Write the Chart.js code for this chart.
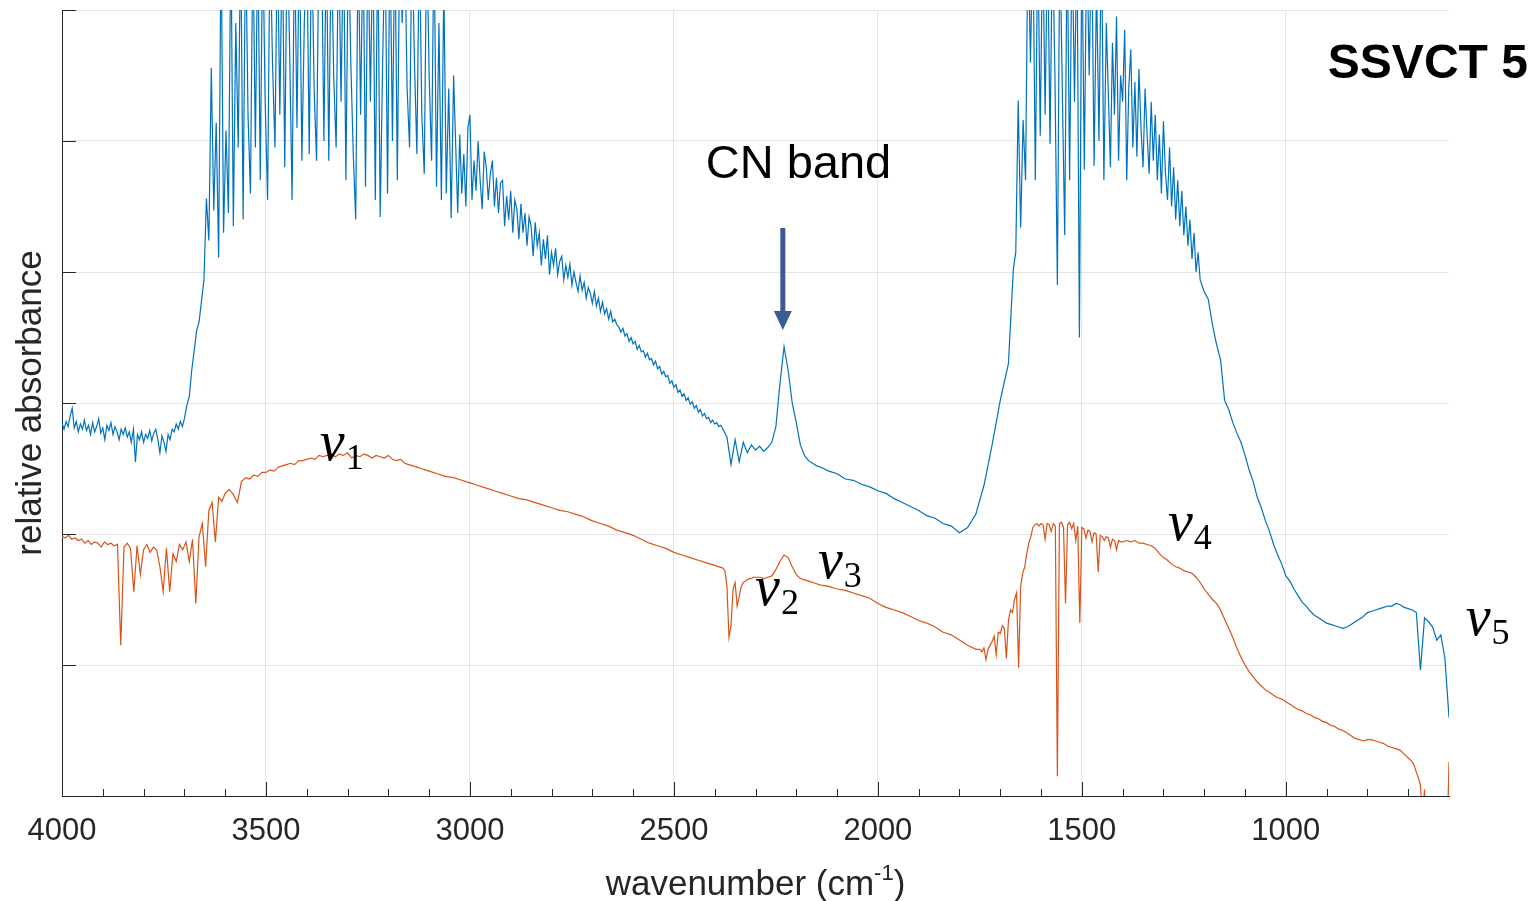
<!DOCTYPE html>
<html><head><meta charset="utf-8">
<script src="https://cdn.jsdelivr.net/npm/chart.js@4"></script>
<style>html,body{margin:0;padding:0;background:#fff;overflow:hidden}canvas{display:block}</style>
</head><body>
<canvas id="c" width="1528" height="901"></canvas>
<script>
// ---------------- DATA ----------------
// x grid: wavenumber (cm-1), each segment = [start, step, values]
const xMajorTicks = [1000, 1500, 2000, 2500, 3000, 3500, 4000];
const xTickLabels = ['1000', '1500', '2000', '2500', '3000', '3500', '4000'];
const xMinorTicks = [700, 800, 900, 1100, 1200, 1300, 1400, 1600, 1700, 1800, 1900, 2100, 2200, 2300, 2400, 2600, 2700, 2800, 2900, 3100, 3200, 3300, 3400, 3600, 3700, 3800, 3900];
const yTicks = [0, 1, 2, 3, 4, 5, 6];

// upper (blue) spectrum
const blueA = [2.85,2.80,2.86,2.82,2.90,2.96,2.81,2.86,2.78,2.84,
  2.80,2.87,2.79,2.83,2.76,2.85,2.78,2.82,2.88,2.77,
  2.81,2.72,2.83,2.79,2.85,2.76,2.82,2.78,2.72,2.80,
  2.76,2.81,2.74,2.78,2.70,2.80,2.55,2.76,2.72,2.78,
  2.70,2.76,2.73,2.79,2.71,2.77,2.80,2.72,2.62,2.75,
  2.70,2.63,2.76,2.72,2.80,2.78,2.84,2.80,2.86,2.82,2.88];
const blueB = [2.98,3.05,3.25,3.40,3.55,3.62,3.78,3.94,4.56];
const blueC = [4.24,5.56,4.47,5.14,4.11,6.6,4.30,5.08,4.45,6.6,
  4.35,5.9,4.95,6.6,4.40,6.6,5.2,4.60,6.6,4.95,
  6.6,4.70,6.6,5.3,4.55,6.6,5.6,4.95,6.6,5.2,
  6.6,4.80,6.6,5.7,4.55,6.6,5.1,6.6,4.85,5.9,
  6.6,4.90,6.6,5.4,4.85,6.6,6.6,5.0,6.6,4.85,
  6.6,5.5,4.95,6.6,5.3,6.6,4.7,6.6,5.6,4.9,
  4.40,6.6,5.2,6.6,4.65,6.6,5.3,6.6,4.55,6.6,
  4.42,5.6,6.6,4.60,6.6,5.0,6.6,4.7,6.6,5.9,
  6.6,5.4,4.95,6.6,5.6,4.90,6.6,5.2,4.75,6.6,
  5.5,4.85,6.6,4.65,5.9,4.55,6.2,4.6,5.4,4.41,5.5];
const blueD = [4.45,5.05,4.60,4.90,4.50,5.10,5.20,4.55,4.85,4.62,
  5.00,4.70,4.48,4.92,4.80,4.55,4.75,
  4.85,4.50,4.72,4.45,4.68,4.70,4.35,4.58,4.40,4.62,
  4.30,4.55,4.48,4.25,4.52,4.30,4.45,4.20,4.42,4.35,
  4.12,4.38,4.20,4.30,4.05,4.25,4.10,4.28,3.98,4.15,
  4.05,4.18,3.98,4.08,4.12,3.94,4.05,3.96,4.06,3.90,
  4.00,3.92,3.85,3.97,3.86,3.92,3.80,3.88,3.84,3.76,
  3.85,3.74,3.80,3.70,3.77,3.68,3.72,3.64,3.70,3.62,
  3.64,3.60,3.58,3.54,3.57,3.51,3.53,3.47,3.50,3.45,
  3.47,3.41,3.44,3.39,3.40,3.35,3.38,3.33,3.34,3.29,
  3.32,3.26,3.28,3.22,3.24,3.20,3.21,3.15,3.17,3.12,
  3.14,3.08,3.10,3.05,3.07,3.02,3.04,2.99,3.01,2.96,
  2.98,2.93,2.95,2.90,2.92,2.88,2.89,2.85,2.87,2.84,
  2.85,2.82,2.83,2.80];
const blueE = [2.74,2.53,2.72,2.55,2.70,2.62,2.68,2.64,2.67,2.63,2.66,2.70,2.82,3.15,3.43,3.25,3.00,2.85,2.68,2.60,2.56,2.54,2.52];
const blueF = [2.51,2.48,2.46,2.42,2.41,2.38,2.36,2.33,2.31,2.27,2.24,2.21,2.18,2.14,2.12,2.08,2.06,2.01,2.05,2.15,2.37,2.68,3.02];
const blueG = [3.3,3.66,4.02,4.15,5.31,4.34,5.16,4.70,6.6,5.6,6.6,4.70,6.6,5.04,6.6,5.2,6.6,4.98,6.6,5.5,3.90,6.6,5.4,4.28,6.6,4.70,6.6,5.3,6.6,3.50,6.6,4.78,6.6,5.5,6.6,4.81,6.2,5.0,6.6,4.70,5.9];
const blueH = [4.80,5.75,5.20,5.95,4.85,5.50,5.30,5.85,4.70,5.40,
  5.70,4.95,5.45,4.88,5.55,5.10,4.80,5.40,5.05,4.75,
  5.30,4.85,5.20,4.70,5.05,4.60,5.15,4.75,4.55,4.95,
  4.50,4.80,4.40,4.70,4.35,4.62,4.28,4.50,4.20,4.40,
  4.10,4.30,4.00,4.15];
const blueI = [3.94,3.85,3.79,3.60,3.45,3.33,3.02,2.95,2.85,2.77,
  2.70,2.60,2.49,2.40,2.28,2.20,2.10,2.02,1.92,1.84,
  1.77,1.68,1.64,1.58,1.53,1.48,1.45,1.41,1.38,1.36,
  1.34,1.32,1.31,1.30,1.29,1.28,1.29,1.31,1.33,1.35,
  1.37,1.40,1.41,1.42,1.43,1.44,1.45,1.45,1.47,1.46,
  1.44,1.43,1.42,1.40,0.96,1.36,1.33,1.29,1.19,1.23,
  1.05,0.60];

// lower (orange) spectrum
const orangeA = [1.98,1.97,1.99,1.96,1.97,1.95,1.96,1.93,1.95,1.92,
  1.94,1.93,1.90,1.94,1.92,1.93,1.91,1.92,1.15,1.90,
  1.93,1.89,1.56,1.91,1.69,1.88,1.92,1.86,1.90,1.88,
  1.75,1.56,1.89,1.56,1.85,1.79,1.92,1.88,1.94,1.79,
  1.96,1.47,1.98,2.08,1.75,2.18,2.24,1.94,2.28,2.25,2.31];
const orangeB = [2.34,2.30,2.24,2.40,2.43,2.42,2.45,2.44,2.47,2.47,
  2.49,2.48,2.51,2.52,2.53,2.54,2.53,2.56,2.56,2.57,
  2.58,2.57,2.60,2.59,2.60,2.61,2.59,2.61,2.60,2.62,
  2.58,2.60,2.59,2.61,2.60,2.58,2.60,2.59,2.58,2.60,
  2.57,2.56,2.57,2.54,2.53,2.52,2.51,2.50,2.49];
const orangeC = [2.48,2.46,2.44,2.43,2.41,2.39,2.37,2.35,2.33,2.31,
  2.29,2.27,2.26,2.24,2.22,2.20,2.18,2.17,2.15,2.13,
  2.10,2.08,2.06,2.03,2.01,1.99,1.96,1.93,1.91,1.89,
  1.86,1.84,1.82,1.80,1.78,1.76,1.74];
const orangeD = [1.72,1.60,1.21,1.30,1.58,1.63,1.45,1.52,1.60,1.63,1.64,1.65,1.66,1.66,1.67,1.67];
const orangeE = [1.67,1.66,1.67,1.68,1.73,1.79,1.84,1.82,1.75,1.69,1.66,1.65,1.64,1.63,1.62];
const orangeF = [1.61,1.60,1.58,1.57,1.55,1.53,1.51,1.47,1.44,1.42,1.40,1.37,1.34,1.32,1.29,1.25,1.23,1.19,1.15,1.12];
const orangeG = [1.12,1.10,1.13,1.04,1.12,1.15,1.18,1.22,1.08,1.25,
  1.24,1.30,1.28,1.05,1.34,1.42,1.40,1.50,1.55,0.98,
  1.60,1.70,1.75,1.85,1.93,1.98,2.05,2.07,2.08,2.06,
  2.08,2.07,1.96,2.08,2.07,2.02,2.08,2.06,0.15,2.08,
  2.09,2.05,1.47,2.07,2.09,2.04,2.08,1.95,2.06,1.32,
  2.05,2.04,1.97,2.03,2.02,1.94,2.01,2.00,1.71,1.99,
  1.98,1.95,1.98,1.97,1.90,1.96,1.95,1.88,1.95,1.94,1.94];
const orangeH = [1.95,1.94,1.95,1.93,1.93,1.92,1.91,1.89,1.85,1.82,
  1.80,1.77,1.75,1.74,1.72,1.71,1.70,1.67,1.63,1.58,
  1.54,1.50,1.47,1.42,1.35,1.28,1.21,1.13,1.06,1.00,
  0.95,0.91,0.87,0.84,0.81,0.79,0.77,0.75,0.74,0.72,
  0.70,0.68,0.66,0.65,0.63,0.62,0.60,0.59,0.57,0.56,
  0.54,0.53,0.51,0.50,0.48,0.46,0.44,0.43,0.42,0.43,
  0.43,0.42,0.41,0.40,0.38,0.37,0.36,0.35,0.32,0.29];
const orangeI = [0.26,0.23,0.18,0.14,0.08,-0.2,0.05,-0.4,-0.5,-0.5,-0.5,-0.5,-0.5,-0.5,-0.5,-0.5,-0.5,-0.4,0.26];

const blueSegments = [[4000,-5,blueA],[3694,-6,blueB],[3640,-6,blueC],[3030,-5,blueD],[2370,-10,blueE],[2140,-20,blueF],[1680,-6,blueG],[1430,-5,blueH],[1210,-10,blueI]];
const orangeSegments = [[4000,-8,orangeA],[3590,-10,orangeB],[3100,-20,orangeC],[2375,-5,orangeD],[2290,-10,orangeE],[2140,-20,orangeF],[1750,-5,orangeG],[1390,-10,orangeH],[690,-5,orangeI]];

// ---------------- ANNOTATIONS (data coordinates) ----------------
const nuLabels = [
  {sub:'1', x:3368, y:2.565},
  {sub:'2', x:2301, y:1.458},
  {sub:'3', x:2147, y:1.664},
  {sub:'4', x:1289, y:1.954},
  {sub:'5', x:559,  y:1.229}
];
const cnText = {text:'CN band', x:2422, y:4.718};
const cnArrow = {x:2233, yFrom:4.336, yTo:3.557};
const sampleText = {text:'SSVCT 5', x:897, y:5.48};

function build(segs){
  const pts = [];
  for (const [x0, dx, vals] of segs) vals.forEach((v, i) => pts.push({x: x0 + dx * i, y: v}));
  return pts;
}

const AX = '#262626';
const GRID = 'rgba(38,38,38,0.12)';

const decor = {
  id: 'decor',
  afterDraw(chart){
    const {ctx, chartArea: ca, scales: {x, y}} = chart;
    ctx.save();
    // inward ticks
    ctx.strokeStyle = AX; ctx.lineWidth = 1;
    ctx.beginPath();
    xMajorTicks.forEach(v => { const px = Math.round(x.getPixelForValue(v)) + 0.5; ctx.moveTo(px, ca.bottom); ctx.lineTo(px, ca.bottom - 14); });
    xMinorTicks.forEach(v => { const px = Math.round(x.getPixelForValue(v)) + 0.5; ctx.moveTo(px, ca.bottom); ctx.lineTo(px, ca.bottom - 7); });
    yTicks.forEach(v => { const py = Math.round(y.getPixelForValue(v)) + 0.5; ctx.moveTo(ca.left, py); ctx.lineTo(ca.left + 14, py); });
    ctx.stroke();

    // axis titles
    ctx.fillStyle = AX;
    const main = '35px "Liberation Sans", Arial, sans-serif';
    const sup = '22px "Liberation Sans", Arial, sans-serif';
    ctx.font = main; const w1 = ctx.measureText('wavenumber (cm').width; const w3 = ctx.measureText(')').width;
    ctx.font = sup; const w2 = ctx.measureText('-1').width;
    let tx = (ca.left + ca.right) / 2 - (w1 + w2 + w3) / 2;
    const by = 895;
    ctx.textBaseline = 'alphabetic'; ctx.textAlign = 'left';
    ctx.font = main; ctx.fillText('wavenumber (cm', tx, by);
    ctx.font = sup; ctx.fillText('-1', tx + w1, by - 15);
    ctx.font = main; ctx.fillText(')', tx + w1 + w2, by);

    ctx.save();
    ctx.translate(41, (ca.top + ca.bottom) / 2);
    ctx.rotate(-Math.PI / 2);
    ctx.textAlign = 'center'; ctx.font = main;
    ctx.fillText('relative absorbance', 0, 0);
    ctx.restore();

    // CN band text + arrow
    ctx.fillStyle = '#000';
    ctx.font = '47px "Liberation Sans", Arial, sans-serif';
    ctx.textAlign = 'left';
    ctx.fillText(cnText.text, x.getPixelForValue(cnText.x), y.getPixelForValue(cnText.y));
    const ax = x.getPixelForValue(cnArrow.x), ay0 = y.getPixelForValue(cnArrow.yFrom), ay1 = y.getPixelForValue(cnArrow.yTo);
    ctx.fillStyle = '#3B5C93';
    ctx.fillRect(ax - 2.5, ay0, 5, (ay1 - 18) - ay0);
    ctx.beginPath(); ctx.moveTo(ax - 9, ay1 - 19); ctx.lineTo(ax + 9, ay1 - 19); ctx.lineTo(ax, ay1); ctx.closePath(); ctx.fill();

    // sample label
    ctx.fillStyle = '#000';
    ctx.font = 'bold 48px "Liberation Sans", Arial, sans-serif';
    ctx.fillText(sampleText.text, x.getPixelForValue(sampleText.x), y.getPixelForValue(sampleText.y));

    // nu labels
    nuLabels.forEach(l => {
      const lx = x.getPixelForValue(l.x), ly = y.getPixelForValue(l.y);
      ctx.font = 'italic 56px "Liberation Serif", "Times New Roman", serif';
      const vw = ctx.measureText('v').width;
      ctx.fillText('v', lx, ly);
      ctx.font = '36px "Liberation Serif", "Times New Roman", serif';
      ctx.fillText(l.sub, lx + vw + 1, ly + 9);
    });
    ctx.restore();
  }
};

new Chart(document.getElementById('c').getContext('2d'), {
  type: 'line',
  data: {
    datasets: [
      {label: 'upper', data: build(blueSegments), borderColor: '#0072BD', borderWidth: 1.2, pointRadius: 0, fill: false, tension: 0},
      {label: 'lower', data: build(orangeSegments), borderColor: '#D95319', borderWidth: 1.2, pointRadius: 0, fill: false, tension: 0}
    ]
  },
  options: {
    responsive: false, animation: false, devicePixelRatio: 1,
    layout: {padding: {top: 10, right: 79, left: 0, bottom: 0}},
    plugins: {legend: {display: false}, tooltip: {enabled: false}},
    scales: {
      x: {
        type: 'linear', reverse: true, min: 600, max: 4000,
        afterBuildTicks: s => { s.ticks = xMajorTicks.map(v => ({value: v})); },
        afterFit: s => { s.height = 105; },
        ticks: {color: AX, font: {family: '"Liberation Sans", Arial, sans-serif', size: 31}, padding: 17, maxRotation: 0, autoSkip: false,
                callback: (v) => xTickLabels[xMajorTicks.indexOf(v)]},
        grid: {color: GRID, drawTicks: false, lineWidth: 1},
        border: {display: true, color: AX, width: 1}
      },
      y: {
        min: 0, max: 6,
        afterBuildTicks: s => { s.ticks = yTicks.map(v => ({value: v})); },
        afterFit: s => { s.width = 62; },
        ticks: {display: false},
        grid: {color: GRID, drawTicks: false, lineWidth: 1},
        border: {display: true, color: AX, width: 1}
      }
    }
  },
  plugins: [decor]
});
</script>
</body></html>
